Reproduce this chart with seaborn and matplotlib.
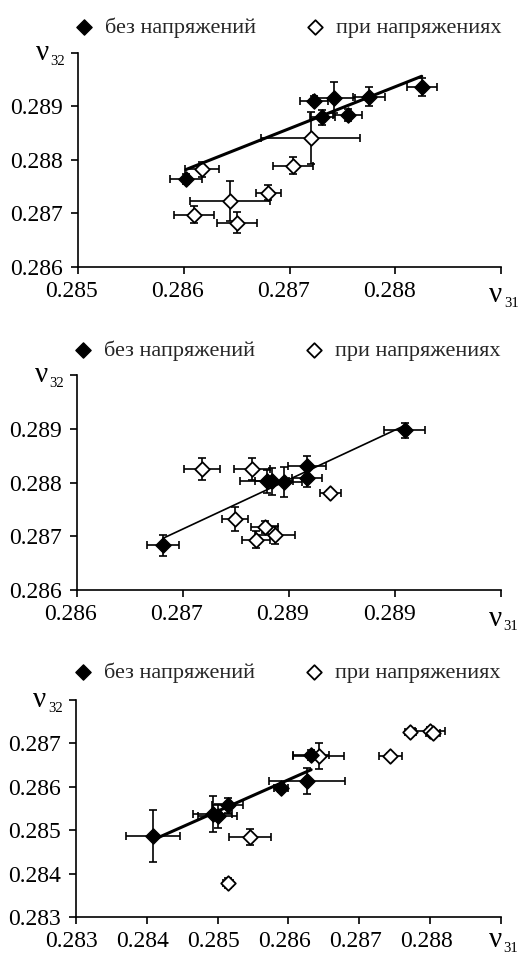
import numpy as np
import pandas as pd
import matplotlib
matplotlib.use("Agg")
import matplotlib.pyplot as plt
import matplotlib.transforms as mtransforms
import seaborn as sns

# ---- panel 1 ----
p1_x_free = [0.28602, 0.28723, 0.28742, 0.28731, 0.28755, 0.28775, 0.28825]
p1_y_free = [0.28764, 0.28911, 0.28916, 0.28880, 0.28884, 0.28918, 0.28936]
p1_xerr_free = [0.00015, 0.00013, 0.00020, 0.00012, 0.00014, 0.00015, 0.00014]
p1_yerr_free = [0.00009, 0.00008, 0.00029, 0.00014, 0.00012, 0.00018, 0.00017]
p1_x_load = [0.28617, 0.28703, 0.28720, 0.28680, 0.28644, 0.28610, 0.28650]
p1_y_load = [0.28783, 0.28789, 0.28841, 0.28739, 0.28723, 0.28698, 0.28683]
p1_xerr_load = [0.00016, 0.00019, 0.00047, 0.00012, 0.00038, 0.00019, 0.00019]
p1_yerr_load = [0.00014, 0.00016, 0.00049, 0.00014, 0.00037, 0.00016, 0.00020]
p1_xticks = [0.285, 0.286, 0.287, 0.288, 0.289]
p1_xlabels = ["0.285", "0.286", "0.287", "0.288", ""]
p1_yticks = [0.286, 0.287, 0.288, 0.289, 0.290]
p1_ylabels = ["0.286", "0.287", "0.288", "0.289", ""]

# ---- panel 2 ----
p2_x_free = [0.28681, 0.28909, 0.28817, 0.28817, 0.28795, 0.28779, 0.28784]
p2_y_free = [0.28683, 0.28897, 0.28830, 0.28808, 0.28801, 0.28802, 0.28802]
p2_xerr_free = [0.00015, 0.00019, 0.00018, 0.00014, 0.00017, 0.00025, 0.00016]
p2_yerr_free = [0.00019, 0.00014, 0.00019, 0.00017, 0.00028, 0.00022, 0.00025]
p2_x_load = [0.28718, 0.28765, 0.28839, 0.28749, 0.28777, 0.28769, 0.28787]
p2_y_load = [0.28825, 0.28825, 0.28780, 0.28732, 0.28718, 0.28694, 0.28702]
p2_xerr_load = [0.00017, 0.00017, 0.00010, 0.00012, 0.00013, 0.00013, 0.00019]
p2_yerr_load = [0.00020, 0.00020, 0.00006, 0.00022, 0.00011, 0.00016, 0.00017]
p2_xticks = [0.286, 0.287, 0.288, 0.289, 0.290]
p2_xlabels = ["0.286", "0.287", "0.289", "0.289", ""]
p2_yticks = [0.286, 0.287, 0.288, 0.289, 0.290]
p2_ylabels = ["0.286", "0.287", "0.288", "0.289", ""]

# ---- panel 3 ----
p3_x_free = [0.28409, 0.28493, 0.28500, 0.28514, 0.28589, 0.28626, 0.28632]
p3_y_free = [0.28487, 0.28537, 0.28532, 0.28557, 0.28597, 0.28614, 0.28673]
p3_xerr_free = [0.00038, 0.00028, 0.00028, 0.00022, 0.00010, 0.00054, 0.00025]
p3_yerr_free = [0.00060, 0.00042, 0.00028, 0.00018, 0.00009, 0.00030, 0.00012]
p3_x_load = [0.28643, 0.28546, 0.28515, 0.28744, 0.28772, 0.28800, 0.28804]
p3_y_load = [0.28671, 0.28484, 0.28378, 0.28671, 0.28726, 0.28729, 0.28723]
p3_xerr_load = [0.00036, 0.00030, 0.00007, 0.00016, 0.00008, 0.00021, 0.00010]
p3_yerr_load = [0.00030, 0.00019, 0.00011, 0.00006, 0.00005, 0.00009, 0.00007]
p3_xticks = [0.283, 0.284, 0.285, 0.286, 0.287, 0.288, 0.289]
p3_xlabels = ["0.283", "0.284", "0.285", "0.286", "0.287", "0.288", ""]
p3_yticks = [0.283, 0.284, 0.285, 0.286, 0.287, 0.288]
p3_ylabels = ["0.283", "0.284", "0.285", "0.286", "0.287", ""]

label_free = "без напряжений"
label_load = "при напряжениях"

sns.set_theme(style="ticks")
plt.rcParams['font.family'] = ['Liberation Serif', 'DejaVu Serif']
plt.rcParams['axes.linewidth'] = 1.2


def sub_label(ax, x, y, main, sub):
    ax.annotate(main, xy=(x, y), xycoords='axes fraction', ha='left',
                va='baseline', fontsize=21, color='black', annotation_clip=False)
    ax.annotate(sub, xy=(x, y), xycoords='axes fraction', xytext=(10.5, -3.5),
                textcoords='offset points', ha='left', va='baseline',
                fontsize=10.5, color='black', annotation_clip=False)


def draw_panel(ax, xf, yf, xef, yef, xo, yo, xeo, yeo,
               xticks, xlabels, yticks, ylabels, lw, xshift, leg_y, nu_y):
    ebar = dict(fmt='none', ecolor='black', elinewidth=1.2, capsize=3,
                capthick=1.2, zorder=2)
    ax.errorbar(xo, yo, xerr=xeo, yerr=yeo, **ebar)
    ax.errorbar(xf, yf, xerr=xef, yerr=yef, **ebar)
    sns.scatterplot(x=xo, y=yo, ax=ax, marker='D', s=55, color='white',
                    edgecolor='black', linewidth=1.3, label=label_load, zorder=3)
    sns.scatterplot(x=xf, y=yf, ax=ax, marker='D', s=60, color='black',
                    edgecolor='black', linewidth=1, label=label_free, zorder=3)
    sns.regplot(x=np.array(xf), y=np.array(yf), ax=ax, scatter=False, ci=None,
                truncate=True, line_kws=dict(color='black', lw=lw, zorder=4))

    ax.set_xlim(xticks[0], xticks[-1])
    ax.set_ylim(yticks[0], yticks[-1])
    ax.set_xticks(xticks)
    ax.set_xticklabels(xlabels)
    ax.set_yticks(yticks)
    ax.set_yticklabels(ylabels)
    ax.set_xlabel("")
    ax.set_ylabel("")
    ax.tick_params(direction='out', length=5, width=1.2, labelsize=17,
                   colors='black')
    ax.tick_params(axis='y', pad=6)
    ax.tick_params(axis='x', pad=5)
    off = mtransforms.ScaledTranslation(xshift / 100, 0, ax.figure.dpi_scale_trans)
    for t in ax.get_xticklabels():
        t.set_transform(t.get_transform() + off)
    sns.despine(ax=ax)
    for s in ['left', 'bottom']:
        ax.spines[s].set_color('black')

    h, l = ax.get_legend_handles_labels()
    ax.legend([h[1], h[0]], [l[1], l[0]], loc='center',
              bbox_to_anchor=(0.495, leg_y), ncol=2, frameon=False,
              fontsize=16, handlelength=0.9, handletextpad=0.5,
              columnspacing=2.2, borderaxespad=0)

    sub_label(ax, -0.1, 0.967, "ν", "32")
    sub_label(ax, 0.972, nu_y, "ν", "31")


fig = plt.figure(figsize=(5.2, 9.58), dpi=100)
fig.patch.set_facecolor('white')
ax1 = fig.add_axes([0.150, 0.7213, 0.8135, 0.2234])
ax2 = fig.add_axes([0.148, 0.3841, 0.8155, 0.2244])
ax3 = fig.add_axes([0.146, 0.0428, 0.8175, 0.2265])
for a in (ax1, ax2, ax3):
    a.set_facecolor('white')

draw_panel(ax1, p1_x_free, p1_y_free, p1_xerr_free, p1_yerr_free,
           p1_x_load, p1_y_load, p1_xerr_load, p1_yerr_load,
           p1_xticks, p1_xlabels, p1_yticks, p1_ylabels, 2.2, -6, 1.12, -0.165)
draw_panel(ax2, p2_x_free, p2_y_free, p2_xerr_free, p2_yerr_free,
           p2_x_load, p2_y_load, p2_xerr_load, p2_yerr_load,
           p2_xticks, p2_xlabels, p2_yticks, p2_ylabels, 1.2, -6, 1.115, -0.165)
draw_panel(ax3, p3_x_free, p3_y_free, p3_xerr_free, p3_yerr_free,
           p3_x_load, p3_y_load, p3_xerr_load, p3_yerr_load,
           p3_xticks, p3_xlabels, p3_yticks, p3_ylabels, 2.2, -4, 1.128, -0.14)

fig.savefig("out.png", dpi=100, facecolor='white')
